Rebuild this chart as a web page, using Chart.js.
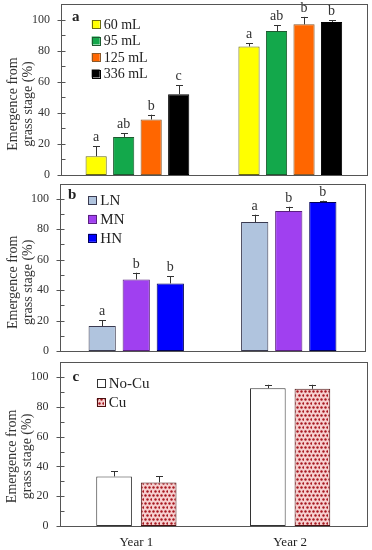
<!DOCTYPE html>
<html>
<head>
<meta charset="utf-8">
<script src="https://cdn.jsdelivr.net/npm/chart.js@4.4.0/dist/chart.umd.min.js"></script>
<style>
body { margin: 0; background: #fff; }
canvas { display: block; }
</style>
</head>
<body>
<canvas id="chartA" width="372" height="180"></canvas>
<canvas id="chartB" width="372" height="178"></canvas>
<canvas id="chartC" width="372" height="192"></canvas>
<script>
// 数据
const years = ['Year 1', 'Year 2'];
const yTitle = ['Emergence from', 'grass stage (%)'];

// 图 a：容器体积
const volNames = ['60 mL', '95 mL', '125 mL', '336 mL'];
const volMeans = [[12.1, 82.7], [24.5, 92.6], [35.7, 96.9], [52.0, 98.5]];
const volErrs = [[6.3, 1.9], [2.5, 3.9], [3.1, 4.8], [5.8, 1.1]];
const volLetters = [['a', 'a'], ['ab', 'ab'], ['b', 'b'], ['c', 'b']];

// 图 b：氮
const nNames = ['LN', 'MN', 'HN'];
const nMeans = [[16.4, 84.7], [47.0, 91.9], [44.4, 97.8]];
const nErrs = [[3.9, 4.8], [4.4, 2.8], [4.8, 0.9]];
const nLetters = [['a', 'a'], ['b', 'b'], ['b', 'b']];

// 图 c：铜
const cuNames = ['No-Cu', 'Cu'];
const cuMeans = [[33.3, 92.6], [29.3, 92.2]];
const cuErrs = [[3.6, 2.3], [4.0, 2.7]];

const yMin = 0, yMax = 110, yStep = 20;

const SERIF = '"Liberation Serif", "Times New Roman", serif';

// 红点图案
function dotPattern() {
    const c = document.createElement('canvas');
    c.width = 8; c.height = 8;
    const g = c.getContext('2d');
    g.fillStyle = '#f6cfcf';
    g.fillRect(0, 0, 8, 8);
    g.fillStyle = '#a81820';
    [[1.5, 1.5], [5.5, 1.5], [3.5, 5.5], [7.5, 5.5]].forEach(p => {
        g.beginPath();
        g.arc(p[0], p[1], 1.2, 0, Math.PI * 2);
        g.fill();
    });
    return g.createPattern(c, 'repeat');
}

// 误差线、字母、边框、刻度、图例、标题
const decoPlugin = {
    id: 'deco',
    afterDatasetsDraw(chart, args, o) {
        const ctx = chart.ctx, y = chart.scales.y;
        ctx.save();
        chart.data.datasets.forEach((ds, i) => {
            chart.getDatasetMeta(i).data.forEach((bar, j) => {
                const top = y.getPixelForValue(ds.data[j] + ds.errors[j]);
                const x = Math.round(bar.x) + 0.5;
                ctx.strokeStyle = '#333';
                ctx.lineWidth = 1;
                ctx.beginPath();
                ctx.moveTo(x, bar.y);
                ctx.lineTo(x, top);
                ctx.moveTo(x - 3.5, Math.round(top) + 0.5);
                ctx.lineTo(x + 3.5, Math.round(top) + 0.5);
                ctx.stroke();
                if (ds.letters) {
                    ctx.fillStyle = '#333';
                    ctx.font = '14px ' + SERIF;
                    ctx.textAlign = 'center';
                    ctx.textBaseline = 'alphabetic';
                    ctx.fillText(ds.letters[j], bar.x, top - 5);
                }
            });
        });
        ctx.restore();
    },
    afterDraw(chart, args, o) {
        const ctx = chart.ctx, area = chart.chartArea, y = chart.scales.y;
        ctx.save();
        // 边框
        ctx.strokeStyle = '#555';
        ctx.lineWidth = 1;
        const l = Math.round(area.left) + 0.5, t = Math.round(area.top) + 0.5;
        const r = Math.round(area.right) + 0.5, b = Math.round(area.bottom) + 0.5;
        ctx.strokeRect(l, t, r - l, b - t);
        // 刻度
        ctx.beginPath();
        for (let v = 0; v <= 100; v += 10) {
            const py = Math.round(y.getPixelForValue(v)) + 0.5;
            ctx.moveTo(v % 20 === 0 ? l - 4 : l, py);
            ctx.lineTo(l + 4, py);
        }
        ctx.stroke();
        // 面板字母
        ctx.fillStyle = '#222';
        ctx.font = 'bold 15px ' + SERIF;
        ctx.textAlign = 'left';
        ctx.textBaseline = 'middle';
        ctx.fillText(o.panel, area.left + o.panelX, area.top + o.panelY);
        // 图例
        ctx.font = o.legendFont + 'px ' + SERIF;
        chart.data.datasets.forEach((ds, i) => {
            const bx = area.left + o.legendX;
            const cy = area.top + o.legendY + i * o.legendDy;
            ctx.fillStyle = ds.backgroundColor;
            ctx.fillRect(bx, cy - 4, 8, 8);
            ctx.strokeStyle = ds.borderColor;
            ctx.strokeRect(Math.round(bx) + 0.5, Math.round(cy - 4) + 0.5, 8, 8);
            ctx.fillStyle = '#222';
            ctx.fillText(ds.label, bx + 12, cy + 1);
        });
        // Y 轴标题
        ctx.fillStyle = '#333';
        ctx.font = '14px ' + SERIF;
        ctx.textAlign = 'center';
        const cy = area.top + area.height * o.titleFrac;
        yTitle.forEach((line, k) => {
            ctx.save();
            ctx.translate(o.titleX[k], cy);
            ctx.rotate(-Math.PI / 2);
            ctx.fillText(line, 0, 0);
            ctx.restore();
        });
        ctx.restore();
    }
};

function makeDatasets(names, means, errs, letters, fills, borders) {
    return names.map((n, i) => ({
        label: n,
        data: means[i],
        errors: errs[i],
        letters: letters ? letters[i] : null,
        backgroundColor: fills[i],
        borderColor: borders[i],
        borderWidth: 1,
        borderSkipped: false
    }));
}

function makeChart(id, datasets, p) {
    return new Chart(document.getElementById(id), {
        type: 'bar',
        data: { labels: years, datasets: datasets },
        plugins: [decoPlugin],
        options: {
            responsive: false,
            animation: false,
            categoryPercentage: p.catPct,
            barPercentage: p.barPct,
            layout: { padding: { top: p.top, right: p.right, left: 0, bottom: 0 } },
            plugins: {
                legend: { display: false },
                tooltip: { enabled: false },
                deco: p.deco
            },
            scales: {
                x: {
                    offset: true,
                    grid: { display: false, drawTicks: false },
                    border: { display: false },
                    ticks: {
                        display: p.showX,
                        color: '#222',
                        font: { family: SERIF, size: 13 },
                        padding: 9
                    },
                    afterFit: s => {
                        s.height = p.xHeight;
                        s.paddingLeft = 0; s.paddingRight = 0;
                    }
                },
                y: {
                    min: yMin,
                    max: yMax,
                    grid: { display: false, drawTicks: false },
                    border: { display: false },
                    ticks: {
                        stepSize: yStep,
                        color: '#333',
                        padding: 11,
                        font: { family: SERIF, size: 12 }
                    },
                    afterBuildTicks: s => { s.ticks = s.ticks.filter(t => t.value <= 100); },
                    afterFit: s => {
                        s.width = p.yWidth;
                        s.paddingTop = 0; s.paddingBottom = 0;
                    }
                }
            }
        }
    });
}

makeChart('chartA',
    makeDatasets(volNames, volMeans, volErrs, volLetters,
        ['#ffff00', '#13a84b', '#ff6600', '#000000'],
        ['#6b6b10', '#1e5a30', '#8b5a2b', '#000000']),
    {
        top: 4, right: 5.3, yWidth: 61, xHeight: 5, showX: false,
        catPct: 0.72, barPct: 0.77,
        deco: { panel: 'a', panelX: 11, panelY: 13, legendX: 30.7, legendY: 20, legendDy: 16.5,
                legendFont: 14, titleX: [13, 28], titleFrac: 0.585 }
    });

makeChart('chartB',
    makeDatasets(nNames, nMeans, nErrs, nLetters,
        ['#b0c4de', '#a040f0', '#0000ff'],
        ['#3a3a50', '#5a2080', '#00005a']),
    {
        top: 3.5, right: 7, yWidth: 60, xHeight: 7, showX: false,
        catPct: 0.67, barPct: 0.8,
        deco: { panel: 'b', panelX: 8, panelY: 11.5, legendX: 28.3, legendY: 16.5, legendDy: 18.9,
                legendFont: 15, titleX: [13, 28], titleFrac: 0.59 }
    });

makeChart('chartC',
    makeDatasets(cuNames, cuMeans, cuErrs, null,
        ['#ffffff', dotPattern()],
        ['#333333', '#4a1010']),
    {
        top: 4.3, right: 5, yWidth: 59.5, xHeight: 24, showX: true,
        catPct: 0.58, barPct: 0.8,
        deco: { panel: 'c', panelX: 13, panelY: 14.4, legendX: 37.2, legendY: 20.4, legendDy: 19.6,
                legendFont: 15, titleX: [12, 27], titleFrac: 0.575 }
    });
</script>
</body>
</html>
